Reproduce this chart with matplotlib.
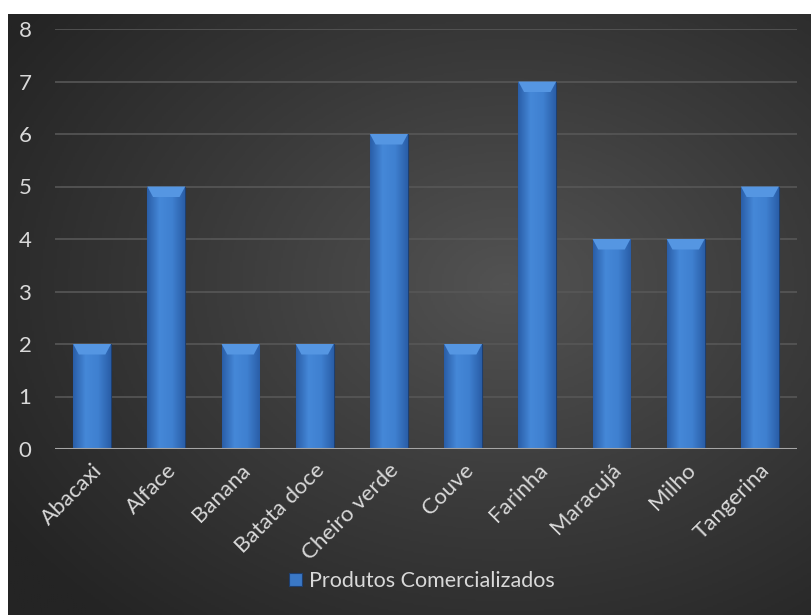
import numpy as np
import matplotlib
matplotlib.use("Agg")
import matplotlib.pyplot as plt
from matplotlib.colors import LinearSegmentedColormap
from matplotlib.patches import Patch

# dados do grafico
produtos = ["Abacaxi", "Alface", "Banana", "Batata doce", "Cheiro verde",
            "Couve", "Farinha", "Maracujá", "Milho", "Tangerina"]
quantidades = [2, 5, 2, 2, 6, 2, 7, 4, 4, 5]
serie = "Produtos Comercializados"
y_ticks = [0, 1, 2, 3, 4, 5, 6, 7, 8]

plt.rcParams['font.family'] = ['Lato', 'DejaVu Sans']
txt_color = '#d9d9d9'

fig = plt.figure(figsize=(8.11, 6.15), dpi=100)
fig.patch.set_facecolor('white')

# fundo escuro com gradiente radial
bg = fig.add_axes([8 / 811, 0, 803 / 811, 601 / 615])
bg.set_axis_off()
yy, xx = np.mgrid[0:1:300j, 0:1:400j]
r = np.sqrt(((xx - 0.62) / 0.75) ** 2 + ((yy - 0.55) / 0.75) ** 2)
r = np.clip(r, 0, 1)
bg_cmap = LinearSegmentedColormap.from_list('bg', ['#525252', '#3a3a3a', '#242424'])
bg.imshow(r, cmap=bg_cmap, aspect='auto', extent=[0, 1, 0, 1], origin='lower')
bg.set_xlim(0, 1)
bg.set_ylim(0, 1)

ax = fig.add_axes([55 / 811, 1 - 449 / 615, 742 / 811, 420 / 615])
ax.set_facecolor('none')
x = np.arange(len(produtos))
bars = ax.bar(x, quantidades, width=0.51, color='#3a78c6', edgecolor='#1d3f70',
              linewidth=0.8, zorder=3)

# gradiente horizontal dentro das barras
bar_cmap = LinearSegmentedColormap.from_list('bar', ['#2a5ea8', '#4588d8', '#3f80d0', '#2a5ea8'])
grad = np.linspace(0, 1, 64).reshape(1, -1)
for b in bars:
    x0, w, h = b.get_x(), b.get_width(), b.get_height()
    im = ax.imshow(grad, cmap=bar_cmap, aspect='auto', extent=[x0, x0 + w, 0, h],
                   zorder=3.5)
    im.set_clip_path(b)
    # brilho no topo (chanfro)
    ax.fill([x0, x0 + w, x0 + w * 0.85, x0 + w * 0.15],
            [h, h, h - 0.2, h - 0.2], color='#5596e2', linewidth=0, zorder=3.6)

ax.set_xlim(-0.5, len(produtos) - 0.5)
ax.set_ylim(0, 8)
ax.set_yticks(y_ticks)
ax.set_xticks(x)
ax.set_xticklabels(produtos, rotation=45, ha='right', rotation_mode='anchor')
ax.tick_params(axis='both', length=0, colors=txt_color, labelsize=16)
ax.tick_params(axis='y', pad=17)
ax.tick_params(axis='x', pad=8)
for lbl in ax.get_yticklabels():
    lbl.set_horizontalalignment('right')

ax.yaxis.grid(True, color='#575757', linewidth=1.2, zorder=0)
ax.set_axisbelow(True)
for s in ax.spines.values():
    s.set_visible(False)
ax.axhline(0, color='#a6a6a6', linewidth=2.2, zorder=4)

handle = Patch(facecolor='#3a78c6', edgecolor='#1d3f70', linewidth=0.8)
leg = fig.legend([handle], [serie], loc='center', bbox_to_anchor=(0.52, 0.055),
                 frameon=False, fontsize=15.5, handlelength=0.6, handleheight=0.6,
                 handletextpad=0.3)
for t in leg.get_texts():
    t.set_color(txt_color)

fig.savefig('out.png', dpi=100, facecolor=fig.get_facecolor())
